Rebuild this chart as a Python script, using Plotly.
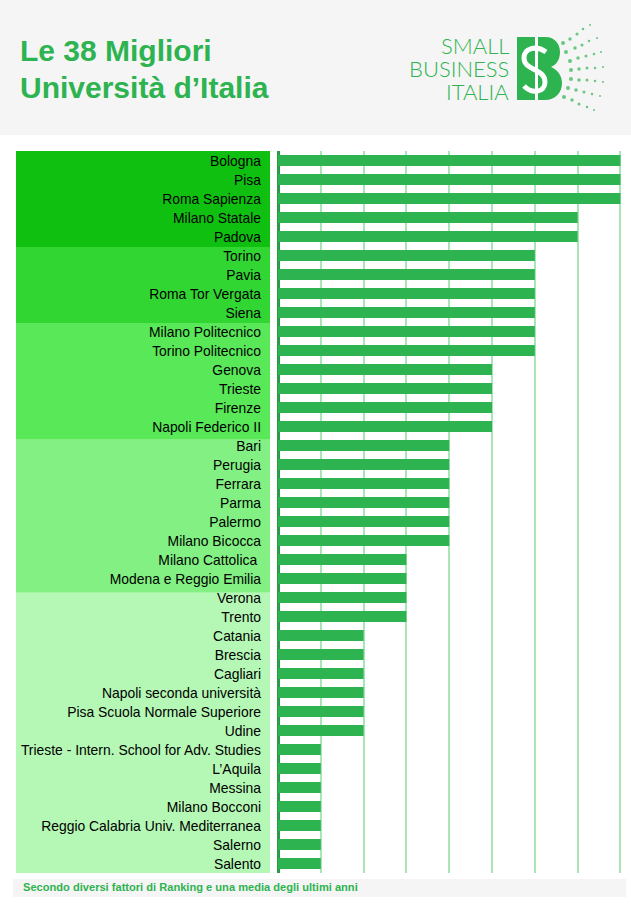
import plotly.graph_objects as go

# --- DATA ---
universities = [
    "Bologna", "Pisa", "Roma Sapienza", "Milano Statale", "Padova",
    "Torino", "Pavia", "Roma Tor Vergata", "Siena",
    "Milano Politecnico", "Torino Politecnico", "Genova", "Trieste", "Firenze", "Napoli Federico II",
    "Bari", "Perugia", "Ferrara", "Parma", "Palermo", "Milano Bicocca",
    "Milano Cattolica\u00a0", "Modena e Reggio Emilia",
    "Verona", "Trento", "Catania", "Brescia", "Cagliari", "Napoli seconda università",
    "Pisa Scuola Normale Superiore", "Udine", "Trieste - Intern. School for Adv. Studies",
    "L’Aquila", "Messina", "Milano Bocconi", "Reggio Calabria Univ. Mediterranea",
    "Salerno", "Salento",
]
scores = [8, 8, 8, 7, 7,
          6, 6, 6, 6,
          6, 6, 5, 5, 5, 5,
          4, 4, 4, 4, 4, 4,
          3, 3,
          3, 3, 2, 2, 2, 2,
          2, 2, 1,
          1, 1, 1, 1,
          1, 1]
# band limits in rows from the top, as they stand in the picture
band_edges = [0, 5.05, 9.05, 15.2, 23.25, 38]
band_colors = ["#10c010", "#32d632", "#58e858", "#82f082", "#b5f7b5"]

# logo dots in page pixels
dots_x = [563, 570, 577, 583, 590, 566, 575, 582, 589, 597, 570, 578, 586, 594, 601,
          571, 579, 587, 595, 603, 571, 579, 587, 595, 603, 568, 576, 584, 592, 600,
          564, 572, 579, 587, 594]
dots_y = [43, 39, 34, 29, 25, 52, 48, 45, 41, 38, 61, 58, 56, 54, 52,
          70, 69, 68, 68, 67, 79, 80, 80, 81, 82, 88, 90, 92, 94, 96,
          97, 100, 104, 107, 110]
dots_size = [4, 3.5, 3, 2.5, 2] * 7

GREEN = "#2db350"

fig = go.Figure()
fig.add_trace(go.Bar(x=scores, y=universities, orientation="h", marker_color=GREEN,
                     marker_line_width=0, showlegend=False))
# page-pixel helper axes for the logo dots
fig.add_trace(go.Scatter(x=dots_x, y=dots_y, mode="markers", xaxis="x2", yaxis="y2",
                         marker=dict(color=GREEN, size=dots_size, line_width=0),
                         showlegend=False, hoverinfo="skip"))

shapes = [
    dict(type="rect", xref="x2", yref="y2", x0=0, x1=631, y0=0, y1=135,
         fillcolor="#f5f5f5", line_width=0, layer="below"),
    dict(type="rect", xref="x2", yref="y2", x0=13, x1=626, y0=879, y1=897,
         fillcolor="#f5f5f5", line_width=0, layer="below"),
    # logo: the B
    dict(type="path", xref="x2", yref="y2", fillcolor=GREEN, line_width=0,
         path="M517 37 L545 37 C556 37 560 45 560 52 C560 60 556 65 551 67 "
              "C558 70 562 76 562 83 C562 93 555 100 545 100 L517 100 Z"),
    dict(type="rect", xref="x2", yref="y2", x0=535, x1=538, y0=37, y1=100,
         fillcolor="white", line_width=0),
    dict(type="path", xref="x2", yref="y2", line=dict(color="white", width=5),
         path="M546 52 C536 45 524 48 524 58 C524 71 545 68 545 82 C545 93 532 94 524 86"),
]

# coloured bands behind the university names
for top, bottom, color in zip(band_edges[:-1], band_edges[1:], band_colors):
    shapes.append(dict(type="rect", xref="x2", yref="y", x0=16, x1=270,
                       y0=top - 0.5, y1=bottom - 0.5,
                       fillcolor=color, line_width=0, layer="below"))

annotations = [
    dict(text="Le 38 Migliori", x=18, y=50, xref="x2", yref="y2",
         xanchor="left", yanchor="middle", showarrow=False,
         font=dict(family="Liberation Sans", size=30, color=GREEN, weight="bold")),
    dict(text="Università d’Italia", x=18, y=87, xref="x2", yref="y2",
         xanchor="left", yanchor="middle", showarrow=False,
         font=dict(family="Liberation Sans", size=30, color=GREEN, weight="bold")),
    dict(text="Secondo diversi fattori di Ranking e una media degli ultimi anni", x=21, y=887,
         xref="x2", yref="y2", xanchor="left", yanchor="middle", showarrow=False,
         font=dict(family="Liberation Sans", size=11.1, color=GREEN, weight="bold")),
]
for word, ypos in zip(["SMALL", "BUSINESS", "ITALIA"], [45, 68, 91]):
    annotations.append(dict(text=word, x=511, y=ypos, xref="x2", yref="y2", xanchor="right",
                            yanchor="middle", showarrow=False,
                            font=dict(family="Lato", size=22, color=GREEN, weight=300)))

fig.update_layout(
    width=631, height=907, margin=dict(l=0, r=0, t=0, b=0),
    plot_bgcolor="rgba(0,0,0,0)", paper_bgcolor="white",
    bargap=0.42, shapes=shapes, annotations=annotations,
    # range runs a little past 8 so the last gridline is not clipped
    xaxis=dict(domain=[278 / 631, 622.6 / 631], range=[0, 8.05], dtick=1,
               showgrid=True, gridcolor="#a8e6b8", gridwidth=2,
               zeroline=True, zerolinecolor="#2a9c48", zerolinewidth=2.5,
               showticklabels=False, ticks=""),
    yaxis=dict(domain=[1 - 873 / 907, 1 - 151 / 907], type="category", autorange="reversed",
               showgrid=False, zeroline=False, ticks="", ticklabelstandoff=16, ticklabelshift=-1,
               tickfont=dict(family="Liberation Sans", size=13.9, color="black")),
    xaxis2=dict(domain=[0, 1], range=[0, 631], visible=False, anchor="y2", fixedrange=True),
    yaxis2=dict(domain=[0, 1], range=[907, 0], visible=False, anchor="x2", fixedrange=True),
)

fig.write_html("out.html", config=dict(displayModeBar=False),
               post_script="document.body.style.margin='0';")
